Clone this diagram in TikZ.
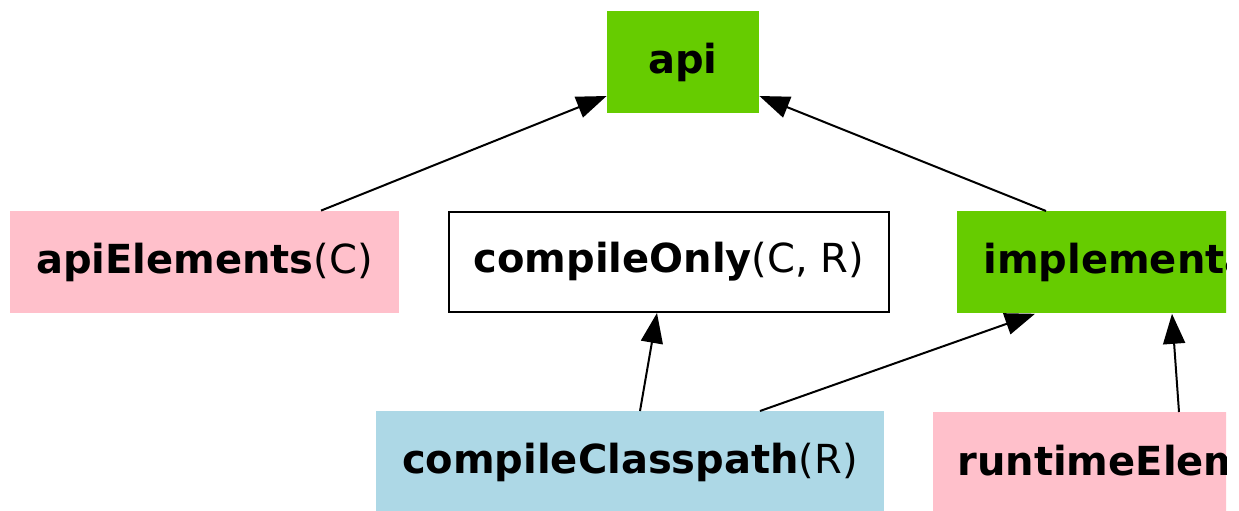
\documentclass[tikz,border=0pt]{standalone}
\usepackage{fontspec}
\setmainfont{DejaVu Sans}
\usetikzlibrary{calc,arrows.meta}
\definecolor{apigreen}{HTML}{66CC00}
\definecolor{elempink}{HTML}{FFC0CB}
\definecolor{cpblue}{HTML}{ADD8E6}
\begin{document}
\begin{tikzpicture}[x=.5pt,y=-.5pt,
	conf/.style={rectangle,inner sep=0pt,minimum height=51pt,font=\fontsize{20}{24}\selectfont},
	dep/.style={line width=1pt,-{Triangle[length=15pt,width=11pt]}}]
\useasboundingbox (0,0) rectangle (1239,510);
\clip (0,0) rectangle (1226,510);
\node[conf,fill=apigreen,minimum width=76pt] (api) at (683,62) {\textbf{api}};
\node[conf,fill=elempink,minimum width=194.5pt] (apiElements) at (204.5,262) {\textbf{apiElements}(C)};
\node[conf,draw=black,line width=1pt,minimum height=50pt,minimum width=220pt] (compileOnly) at (669,262) {\textbf{compileOnly}(C, R)};
\node[conf,fill=apigreen,anchor=north west,inner xsep=13pt] (implementation) at (957,211) {\textbf{implementation}};
\node[conf,fill=cpblue,anchor=north,minimum width=254pt] (compileClasspath) at (630,411) {\textbf{compileClasspath}(R)};
\node[conf,fill=elempink,anchor=north west,inner xsep=12pt] (runtimeElements) at (933,412) {\textbf{runtimeElements}(R)};
\draw[dep] ($(apiElements.north)+(116.5,0)$) -- ($(api.west)+(0,34)$);
\draw[dep] ($(implementation.north west)+(89,0)$) -- ($(api.east)+(0,34)$);
\draw[dep] ($(compileClasspath.north)+(10,0)$) -- ($(compileOnly.south)+(-12,0)$);
\draw[dep] ($(compileClasspath.north)+(130,0)$) -- ($(implementation.south west)+(78,0)$);
\draw[dep] ($(runtimeElements.north west)+(246,0)$) -- ($(implementation.south west)+(215,0)$);
\end{tikzpicture}
\end{document}
